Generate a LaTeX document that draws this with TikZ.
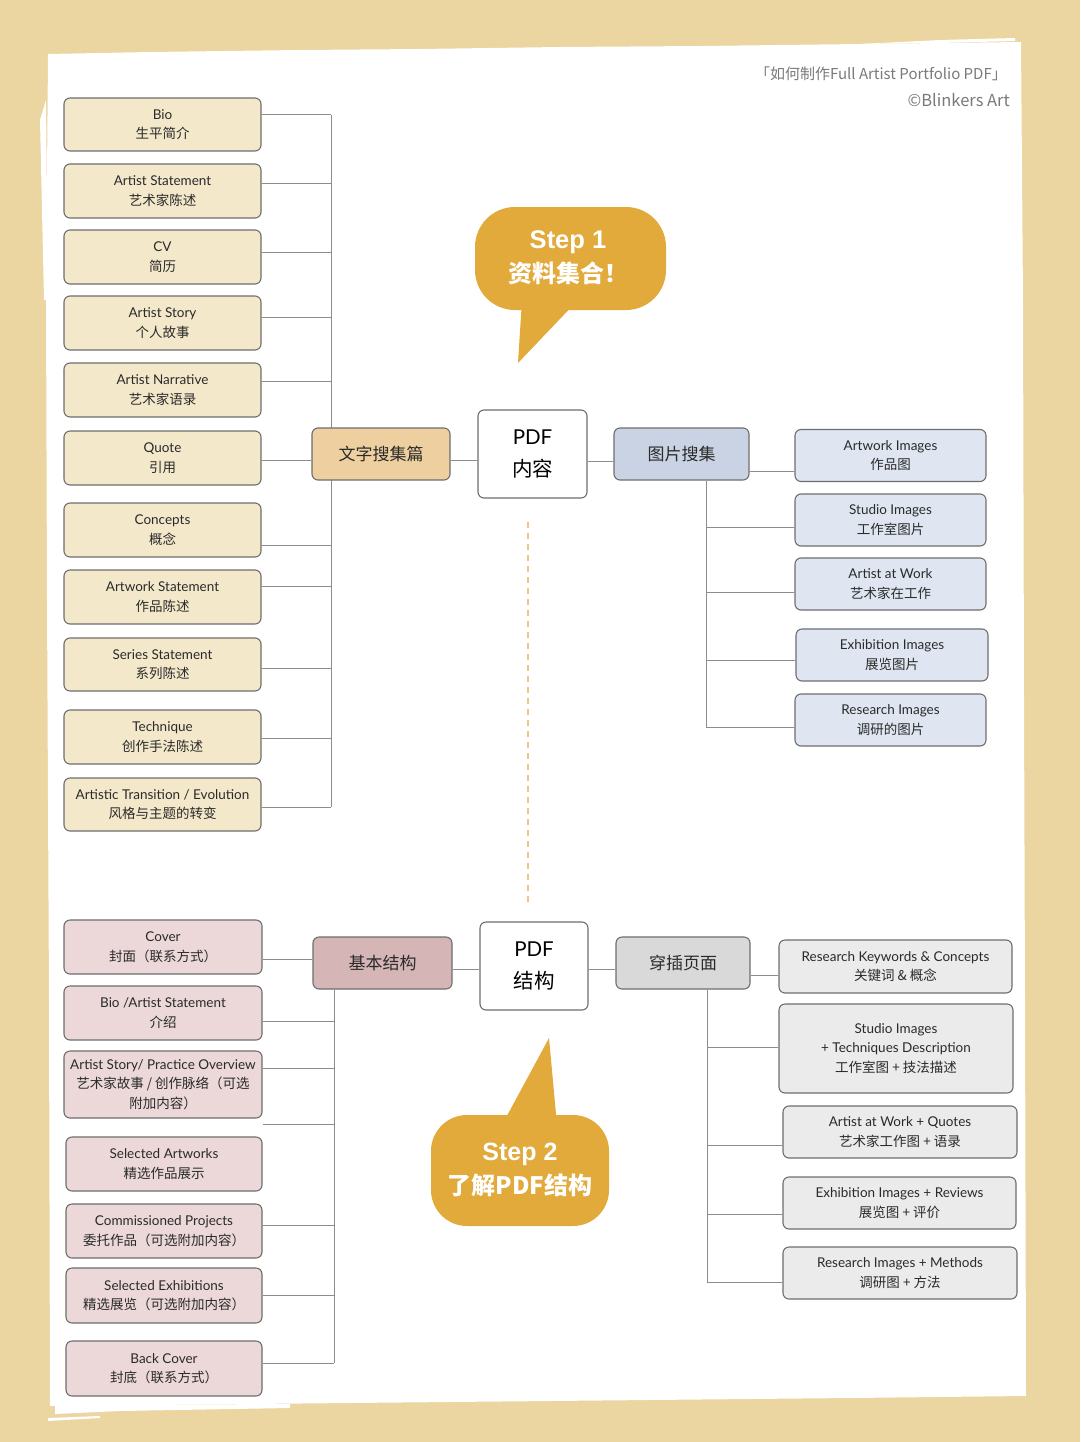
\documentclass[tikz,border=0pt]{standalone}
\usepackage{fontspec}
\setmainfont{Lato}
\newfontfamily\cjk{Noto Sans CJK SC}
\newfontfamily\helv{Liberation Sans}
\usetikzlibrary{calc}
\definecolor{paper}{HTML}{EBD5A0}
\definecolor{bord}{HTML}{6E6E6E}
\definecolor{lnkc}{HTML}{8C8C8C}
\definecolor{tanbox}{HTML}{F4E8CB}
\definecolor{tanhub}{HTML}{EDCFA0}
\definecolor{bluebox}{HTML}{DFE6F2}
\definecolor{bluehub}{HTML}{CAD3E3}
\definecolor{pinkbox}{HTML}{ECD8D9}
\definecolor{pinkhub}{HTML}{D5B5B6}
\definecolor{graybox}{HTML}{EBEBEB}
\definecolor{grayhub}{HTML}{D9D9D9}
\definecolor{bubblec}{HTML}{E2A93B}
\definecolor{txt}{HTML}{2A2A2A}
\definecolor{hdr}{HTML}{7A7A7A}
\definecolor{dashc}{HTML}{EDC584}
\pgfdeclarelayer{paperlayer}
\pgfdeclarelayer{linelayer}
\pgfsetlayers{paperlayer,linelayer,main}
\tikzset{
  box/.style={draw=bord, line width=1.1pt, rounded corners=6pt, align=center, inner sep=0pt,
    font=\fontsize{13.5}{19.5}\selectfont, text=txt},
  hub/.style={box, font=\cjk\fontsize{17}{22}\selectfont},
  pdfbox/.style={box, fill=white, font=\fontsize{20.5}{32}\selectfont, text=black},
  lnk/.style={draw=lnkc, line width=1pt},
  steptext/.style={align=center, text=white, inner sep=0pt, font=\fontsize{25}{33.5}\selectfont},
}
% left-side box: style, name, cx, cy, w, h, shift, text
\newcommand\lbx[8]{\node[box,#1,minimum width=#5pt,minimum height=#6pt] (#2) at (#3,#4) {#8};
  \coordinate (#2c) at ([yshift=#7pt]#2.east);}
\newcommand\rbx[8]{\node[box,#1,minimum width=#5pt,minimum height=#6pt] (#2) at (#3,#4) {#8};
  \coordinate (#2c) at ([yshift=#7pt]#2.west);}
\begin{document}
\begin{tikzpicture}[x=1pt,y=-1pt]
\useasboundingbox (0,0) rectangle (1080,1442);
\begin{pgfonlayer}{paperlayer}
\fill[paper] (0,0) rectangle (1080,1442);
\fill[white] (48,54) -- (150,52) -- (300,50) -- (420,49) -- (560,47) -- (700,46) -- (860,44) -- (1021,42)
  -- (1023,300) -- (1024,700) -- (1025,1000) -- (1026,1396) -- (850,1398) -- (650,1400)
  -- (450,1402) -- (250,1404) -- (50,1406) -- (49,1000) -- (47,600) -- (46,300) -- cycle;
\fill[white] (860,44) -- (940,40) -- (1015,38) -- (1015,41) -- (940,43) -- cycle;
\fill[white] (40,120) -- (46,100) -- (48,300) -- (44,300) -- cycle;
\fill[white] (55,1405) -- (290,1404) -- (290,1408) -- (120,1411) -- (55,1414) -- cycle;
\fill[white] (48,1418) -- (100,1416) -- (100,1418) -- (48,1421) -- cycle;
\end{pgfonlayer}

% header
\node[anchor=east, text=hdr, font=\cjk\fontsize{15}{18}\selectfont, inner sep=0pt] (title) at (1007,74) {「如何制作Full Artist Portfolio PDF」};
\node[anchor=east, text=hdr, font=\cjk\fontsize{16.5}{18}\selectfont, inner sep=0pt] (credit) at (1010,100) {©Blinkers Art};

% ---------------- top section ----------------
\lbx{fill=tanbox}{bio}{162.5}{124.5}{197}{53}{9.5}{Bio\\{\cjk 生平简介}}
\lbx{fill=tanbox}{ast}{162.5}{191}{197}{54}{7}{Artist Statement\\{\cjk 艺术家陈述}}
\lbx{fill=tanbox}{cv}{162.5}{257}{197}{54}{5}{CV\\{\cjk 简历}}
\lbx{fill=tanbox}{story}{162.5}{323}{197}{54}{6}{Artist Story\\{\cjk 个人故事}}
\lbx{fill=tanbox}{narr}{162.5}{390}{197}{54}{9}{Artist Narrative\\{\cjk 艺术家语录}}
\lbx{fill=tanbox}{quote}{162.5}{458}{197}{54}{-2}{Quote\\{\cjk 引用}}
\lbx{fill=tanbox}{concepts}{162.5}{530}{197}{54}{-15}{Concepts\\{\cjk 概念}}
\lbx{fill=tanbox}{artst}{162.5}{597}{197}{54}{11}{Artwork Statement\\{\cjk 作品陈述}}
\lbx{fill=tanbox}{series}{162.5}{664.5}{197}{53}{-3.5}{Series Statement\\{\cjk 系列陈述}}
\lbx{fill=tanbox}{tech}{162.5}{737}{197}{54}{-1}{Technique\\{\cjk 创作手法陈述}}
\lbx{fill=tanbox}{trans}{162.5}{804.5}{197}{53}{-2.5}{Artistic Transition / Evolution\\{\cjk 风格与主题的转变}}

\node[hub, fill=tanhub, minimum width=138pt, minimum height=52pt] (texthub) at (381,454) {文字搜集篇};
\node[pdfbox, minimum width=109pt, minimum height=88pt] (pdf1) at (532.5,454) {PDF\\{\cjk 内容}};
\node[hub, fill=bluehub, minimum width=135pt, minimum height=52pt] (pichub) at (681.5,454) {图片搜集};

\rbx{fill=bluebox}{aimg}{890.5}{455.5}{191}{52}{-15.5}{Artwork Images\\{\cjk 作品图}}
\rbx{fill=bluebox}{simg}{890.5}{520}{191}{52}{-7}{Studio Images\\{\cjk 工作室图片}}
\rbx{fill=bluebox}{awork}{890.5}{584}{191}{52}{-8}{Artist at Work\\{\cjk 艺术家在工作}}
\rbx{fill=bluebox}{eimg}{892}{655}{192}{52}{-5}{Exhibition Images\\{\cjk 展览图片}}
\rbx{fill=bluebox}{rimg}{890.5}{720}{191}{52}{-7}{Research Images\\{\cjk 调研的图片}}

\coordinate (lt) at (331,0);
\coordinate (rt) at (706,0);
\coordinate (th1) at ([yshift=-6pt]texthub.east);
\coordinate (p1) at ([yshift=-7pt]pdf1.east);
\coordinate (dtop) at (528,522);
\coordinate (dbot) at (528,903);

% ---------------- bottom section ----------------
\lbx{fill=pinkbox}{cover}{163}{947}{198}{54}{-12}{Cover\\{\cjk 封面（联系方式）}}
\lbx{fill=pinkbox}{biob}{163}{1013}{198}{54}{-8}{Bio /Artist Statement\\{\cjk 介绍}}
\lbx{fill=pinkbox}{storyb}{163}{1084.5}{198}{67}{16.5}{Artist Story/ Practice Overview\\{\cjk 艺术家故事 / 创作脉络（可选}\\{\cjk 附加内容）}}
\lbx{fill=pinkbox}{sel}{164}{1164}{196}{54}{40}{Selected Artworks\\{\cjk 精选作品展示}}
\lbx{fill=pinkbox}{comm}{164}{1231}{196}{54}{6}{Commissioned Projects\\{\cjk 委托作品（可选附加内容）}}
\lbx{fill=pinkbox}{selex}{164}{1295.5}{196}{55}{0}{Selected Exhibitions\\{\cjk 精选展览（可选附加内容）}}
\lbx{fill=pinkbox}{back}{164}{1368.5}{196}{55}{5.5}{Back Cover\\{\cjk 封底（联系方式）}}

\node[hub, fill=pinkhub, minimum width=139pt, minimum height=52pt] (basehub) at (382.5,963) {基本结构};
\node[pdfbox, minimum width=108pt, minimum height=88pt] (pdf2) at (534,966) {PDF\\{\cjk 结构}};
\node[hub, fill=grayhub, minimum width=134pt, minimum height=52pt] (inshub) at (683,963) {穿插页面};

\rbx{fill=graybox}{rk}{895.5}{966.5}{233}{53}{-8.5}{Research Keywords \& Concepts\\{\cjk 关键词 \& 概念}}
\rbx{fill=graybox}{si}{896}{1048.5}{234}{89}{1.5}{Studio Images\\+ Techniques Description\\{\cjk 工作室图 + 技法描述}}
\rbx{fill=graybox}{aw}{900}{1132}{234}{52}{-13}{Artist at Work + Quotes\\{\cjk 艺术家工作图 + 语录}}
\rbx{fill=graybox}{ex}{899.5}{1203}{233}{52}{-11}{Exhibition Images + Reviews\\{\cjk 展览图 + 评价}}
\rbx{fill=graybox}{rm}{900}{1273}{234}{52}{-9}{Research Images + Methods\\{\cjk 调研图 + 方法}}

\coordinate (lb) at (334,0);
\coordinate (rb) at (707,0);
\coordinate (bh1) at ([yshift=-6pt]basehub.east);
\coordinate (p2) at ([yshift=-3pt]pdf2.east);

% ---------------- connectors ----------------
\begin{pgfonlayer}{linelayer}
\foreach \n in {bio,ast,cv,story,narr,concepts,artst,series,tech,trans}
  \draw[lnk] (\n c) -- (\n c -| lt);
\draw[lnk] (bioc -| lt) -- (transc -| lt);
\draw[lnk] (quotec) -- (quotec -| texthub.west);
\draw[lnk] (th1) -- (th1 -| pdf1.west);
\draw[lnk] (p1) -- (p1 -| pichub.west);
\draw[lnk] (aimgc) -- (aimgc -| pichub.east);
\foreach \n in {simg,awork,eimg,rimg}
  \draw[lnk] (\n c) -- (\n c -| rt);
\draw[lnk] (pichub.south -| rt) -- (rimgc -| rt);
\draw[dashc, line width=1.3pt, dash pattern=on 6pt off 5pt] (dtop) -- (dbot);

\foreach \n in {biob,storyb,sel,comm,selex,back}
  \draw[lnk] (\n c) -- (\n c -| lb);
\draw[lnk] (basehub.south -| lb) -- (backc -| lb);
\draw[lnk] (coverc) -- (coverc -| basehub.west);
\draw[lnk] (bh1) -- (bh1 -| pdf2.west);
\draw[lnk] (p2) -- (p2 -| inshub.west);
\draw[lnk] (rkc) -- (rkc -| inshub.east);
\foreach \n in {si,aw,ex,rm}
  \draw[lnk] (\n c) -- (\n c -| rb);
\draw[lnk] (inshub.south -| rb) -- (rmc -| rb);
\end{pgfonlayer}

% ---------------- speech bubbles ----------------
\fill[bubblec, rounded corners=40pt] (475,207) rectangle (666,310);
\fill[bubblec] (522,300) -- (518,363) -- (578,300) -- cycle;
\node[steptext] (step1) at (568,258) {{\helv\bfseries\fontsize{25.5}{33.5}\selectfont Step 1}\\{\cjk\bfseries\fontsize{24}{33.5}\selectfont 资料集合！}};

\fill[bubblec, rounded corners=36pt] (431,1115) rectangle (609,1226);
\fill[bubblec] (502,1125) -- (549,1038) -- (557,1125) -- cycle;
\node[steptext] (step2) at (520,1170) {{\helv\bfseries\fontsize{25}{33.5}\selectfont Step 2}\\{\cjk\bfseries\fontsize{24}{33.5}\selectfont 了解PDF结构}};
\end{tikzpicture}
\end{document}
